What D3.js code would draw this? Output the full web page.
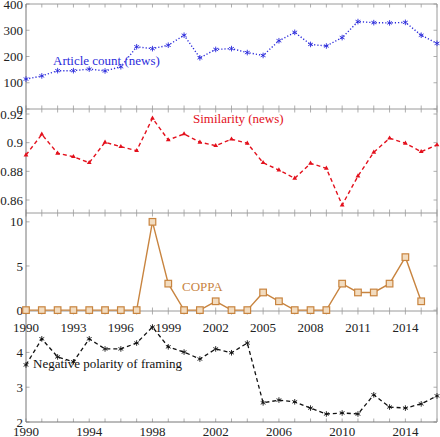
<!DOCTYPE html>
<html><head><meta charset="utf-8">
<script src="https://cdn.jsdelivr.net/npm/d3@7"></script>
<style>body{margin:0;background:#fff}svg{display:block}</style>
</head><body><svg id="c" width="440" height="437"></svg>
<script>
const yearsAll = d3.range(1990, 2017);
const yearsCoppa = d3.range(1990, 2016);
const articleCount = [114,126,146,146,152,145,161,237,230,243,281,195,227,230,215,204,260,292,246,240,272,333,329,328,330,281,250];
const similarity = [0.8914,0.9058,0.8926,0.8902,0.8860,0.9003,0.8972,0.8944,0.9170,0.9019,0.9061,0.9003,0.8979,0.9024,0.8996,0.8860,0.8809,0.8751,0.8856,0.8821,0.8565,0.8767,0.8933,0.9031,0.8996,0.8937,0.8984];
const coppa = [0,0,0,0,0,0,0,0,10,3,0,0,1,0,0,2,1,0,0,0,3,2,2,3,6,1];
const negPolarity = [3.64,4.39,3.87,3.73,4.39,4.10,4.10,4.27,4.73,4.16,4.01,3.81,4.10,3.99,4.27,2.55,2.63,2.58,2.40,2.23,2.26,2.23,2.78,2.43,2.40,2.52,2.75];
const ticks1 = [0,100,200,300,400];
const ticks2 = [0.86,0.88,0.9,0.92];
const ticks3 = [0,5,10];
const ticks4 = [2,3,4];
const xLabels3 = [1990,1993,1996,1999,2002,2005,2008,2011,2014];
const xLabels4 = [1990,1994,1998,2002,2006,2010,2014];

const svg = d3.select("#c");
const FONT = "'Liberation Serif', 'Times New Roman', serif";
const L = 26, R = 437;
const x = d3.scaleLinear().domain([1990, 2016]).range([L, R]);

const panels = [
  {y: d3.scaleLinear().domain([0, 400]).range([109, 4]), ticks: ticks1, fmt: d3.format("d")},
  {y: d3.scaleLinear().domain([0.85093, 0.92349]).range([213, 109]), ticks: ticks2, fmt: d => String(d)},
  {y: d3.scaleLinear().domain([-0.1, 11]).range([311, 213]), ticks: ticks3, fmt: d3.format("d")},
  {y: d3.scaleLinear().domain([2, 5.19]).range([422, 311]), ticks: ticks4, fmt: d3.format("d")}
];

const gridCol = "#9a9a9a";
const axisG = svg.append("g");
// frames
panels.forEach((p, i) => {
  const [yb, yt] = p.y.range();
  // ticks top & bottom (x)
  yearsAll.forEach(yr => {
    if (i < 3 || true) {
      axisG.append("line").attr("x1", x(yr)).attr("x2", x(yr)).attr("y1", yt).attr("y2", yt + 3.5)
        .attr("stroke", gridCol).attr("stroke-width", 0.8);
      axisG.append("line").attr("x1", x(yr)).attr("x2", x(yr)).attr("y1", yb).attr("y2", yb - 3.5)
        .attr("stroke", gridCol).attr("stroke-width", 0.8);
    }
  });
  // y ticks right mirrored
  p.ticks.forEach(t => {
    axisG.append("line").attr("x1", R).attr("x2", R - 3.5).attr("y1", p.y(t)).attr("y2", p.y(t))
      .attr("stroke", gridCol).attr("stroke-width", 0.8);
    axisG.append("line").attr("x1", L).attr("x2", L + 3.5).attr("y1", p.y(t)).attr("y2", p.y(t))
      .attr("stroke", gridCol).attr("stroke-width", 0.8);
  });
  axisG.append("line").attr("x1", L).attr("x2", R).attr("y1", yt).attr("y2", yt).attr("stroke", gridCol).attr("stroke-width", 1);
});
axisG.append("line").attr("x1", L).attr("x2", R).attr("y1", 422).attr("y2", 422).attr("stroke", "#777").attr("stroke-width", 1);
axisG.append("line").attr("x1", R).attr("x2", R).attr("y1", 4).attr("y2", 422).attr("stroke", gridCol).attr("stroke-width", 1);
axisG.append("line").attr("x1", L).attr("x2", L).attr("y1", 4).attr("y2", 422).attr("stroke", "#777").attr("stroke-width", 1);

// y labels
panels.forEach(p => {
  p.ticks.forEach(t => {
    svg.append("text").attr("x", 23).attr("y", p.y(t)).attr("dy", "0.35em")
      .attr("text-anchor", "end").attr("font-family", FONT).attr("font-size", 13).attr("fill", "#222")
      .text(p.fmt(t));
  });
});
// x labels
xLabels3.forEach(yr => svg.append("text").attr("x", x(yr)).attr("y", 331.5).attr("text-anchor", "middle")
  .attr("font-family", FONT).attr("font-size", 13).attr("fill", "#222").text(yr));
xLabels4.forEach(yr => svg.append("text").attr("x", x(yr)).attr("y", 436).attr("text-anchor", "middle")
  .attr("font-family", FONT).attr("font-size", 13).attr("fill", "#222").text(yr));

function starPath(r) {
  let s = "";
  for (let k = 0; k < 3; k++) {
    const a = Math.PI / 2 + k * Math.PI / 3;
    s += `M${-r*Math.cos(a)},${-r*Math.sin(a)}L${r*Math.cos(a)},${r*Math.sin(a)}`;
  }
  return s;
}

function series(years, vals, yScale, color, dash, width, marker) {
  const line = d3.line().x((d, i) => x(years[i])).y(d => yScale(d));
  svg.append("path").datum(vals).attr("d", line).attr("fill", "none").attr("stroke", color)
    .attr("stroke-width", width).attr("stroke-dasharray", dash);
  const g = svg.append("g");
  vals.forEach((v, i) => {
    const cx = x(years[i]), cy = yScale(v);
    if (marker === "star") {
      g.append("path").attr("d", starPath(2.8)).attr("transform", `translate(${cx},${cy})`)
        .attr("stroke", color).attr("stroke-width", 0.9).attr("fill", "none");
    } else if (marker === "tri") {
      g.append("path").attr("d", d3.symbol(d3.symbolTriangle, 10)()).attr("transform", `translate(${cx},${cy})`)
        .attr("fill", color);
    } else if (marker === "square") {
      g.append("rect").attr("x", cx - 3.3).attr("y", cy - 3.3).attr("width", 6.6).attr("height", 6.6)
        .attr("fill", "#f2dcc0").attr("stroke", color).attr("stroke-width", 1.2);
    }
  });
}

series(yearsAll, articleCount, panels[0].y, "#2b2bdb", "1.2,2", 1.4, "star");
series(yearsAll, similarity, panels[1].y, "#e3101c", "4,3", 1.4, "tri");
series(yearsCoppa, coppa, panels[2].y, "#c8843f", null, 1.4, "square");
series(yearsAll, negPolarity, panels[3].y, "#111", "4,3", 1.3, "star");

// labels
function lab(tx, ty, txt, col) {
  svg.append("text").attr("x", tx).attr("y", ty).attr("font-family", FONT).attr("font-size", 13)
    .attr("fill", col).text(txt);
}
lab(53, 65, "Article count (news)", "#2b2bdb");
lab(193, 123, "Similarity (news)", "#e3101c");
lab(182, 291, "COPPA", "#c8843f");
lab(33, 368, "Negative polarity of framing", "#111");
</script></body></html>
